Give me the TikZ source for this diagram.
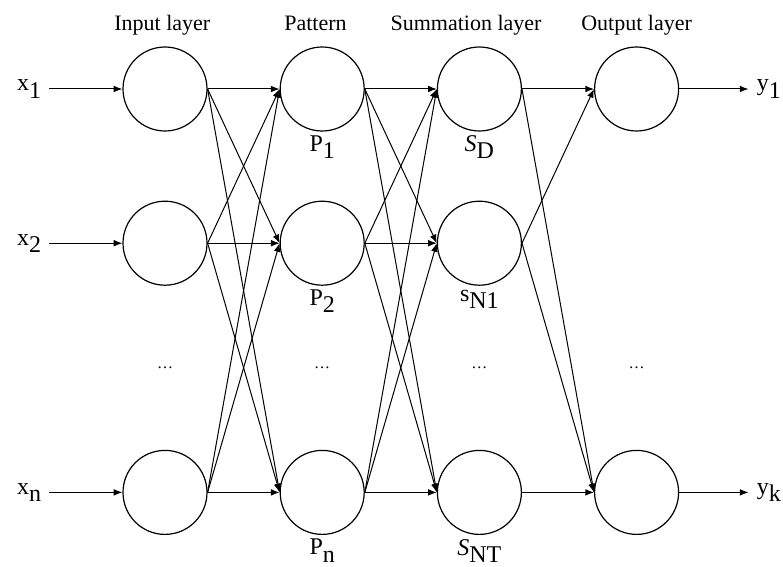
\documentclass[tikz,border=0pt]{standalone}
\usepackage{fontspec}
\setmainfont{Liberation Serif}
\usetikzlibrary{positioning,arrows.meta,calc}
\newcommand{\lsub}[1]{\raisebox{-0.3em}{#1}}
\tikzset{
  neu/.style ={circle, draw=black, line width=0.9pt, minimum size=63pt, inner sep=0pt},
  ttl/.style ={font=\fontsize{16.5}{18}\selectfont, inner sep=0pt,
               text height=0.7em, text depth=0.25em},
  lbl/.style ={font=\fontsize{18}{20}\selectfont, inner sep=0pt},
  io/.style  ={lbl, inner sep=6pt},
  dts/.style ={font=\fontsize{12}{14}\selectfont, inner sep=0pt},
  fl/.style  ={-{Latex[length=6.5pt,width=5pt]}, line width=0.75pt}
}

\begin{document}
\begin{tikzpicture}[x=0.75pt, y=-0.75pt, node distance=51.75pt and 54pt]
  \useasboundingbox (0,0) rectangle (783,567);
  % input layer
  \node[neu] (i1) at (165,89) {};
  \node[neu,below=of i1] (i2) {};
  \node[neu,below=123pt of i2] (in) {};
  % pattern layer
  \node[neu,right=of i1] (p1) {};
  \node[neu,right=of i2] (p2) {};
  \node[neu,right=of in] (pn) {};
  % summation layer
  \node[neu,right=of p1] (s1) {};
  \node[neu,right=of p2] (s2) {};
  \node[neu,right=of pn] (sn) {};
  % output layer
  \node[neu,right=of s1] (o1) {};
  \node[neu,right=of sn] (on) {};
  % titles
  \node[ttl,above=9pt of i1,xshift=-2pt] (tin) {Input layer};
  \node[ttl,above=9pt of p1,xshift=-5pt] (tpat) {Pattern};
  \node[ttl,above=9pt of s1,xshift=-10pt] (tsum) {Summation layer};
  \node[ttl,above=9pt of o1] (tout) {Output layer};
  % labels under the nodes
  \node[lbl,below=3pt of p1] (lp1) {P\lsub{1}};
  \node[lbl,below=3pt of p2] (lp2) {P\lsub{2}};
  \node[lbl,below=3pt of pn] (lpn) {P\lsub{n}};
  \node[lbl,below=3pt of s1] (ls1) {\textit{S}\lsub{D}};
  \node[lbl,below=3pt of s2] (ls2) {s\lsub{N1}};
  \node[lbl,below=3pt of sn] (lsn) {\textit{S}\lsub{NT}};
  % dots
  \node[dts] (idot) at ($(i2)!.5!(in)$) {\dots};
  \node[dts] (pdot) at ($(p2)!.5!(pn)$) {\dots};
  \node[dts] (sdot) at ($(s2)!.5!(sn)$) {\dots};
  \node[dts] (odot) at (o1 |- sdot) {\dots};
  % inputs and outputs
  \foreach \r in {1,2,n}
  {
    \node[io,left=54.75pt of i\r] (x\r) {x\lsub{\r}};
    \draw[fl] (x\r) -- (i\r);
  }
  \node[io,right=52pt of o1] (y1) {y\lsub{1}};
  \node[io,right=52pt of on] (yk) {y\lsub{k}};
  \draw[fl] (o1) -- (y1);
  \draw[fl] (on) -- (yk);
  % connections
  \foreach \a in {1,2,n}
    \foreach \b in {1,2,n}
    {
      \draw[fl] (i\a.east) -- (p\b.west);
      \draw[fl] (p\a.east) -- (s\b.west);
    }
  \foreach \a/\b in {1/1,2/1,1/n,2/n,n/n}
    \draw[fl] (s\a.east) -- (o\b.west);
\end{tikzpicture}
\end{document}
